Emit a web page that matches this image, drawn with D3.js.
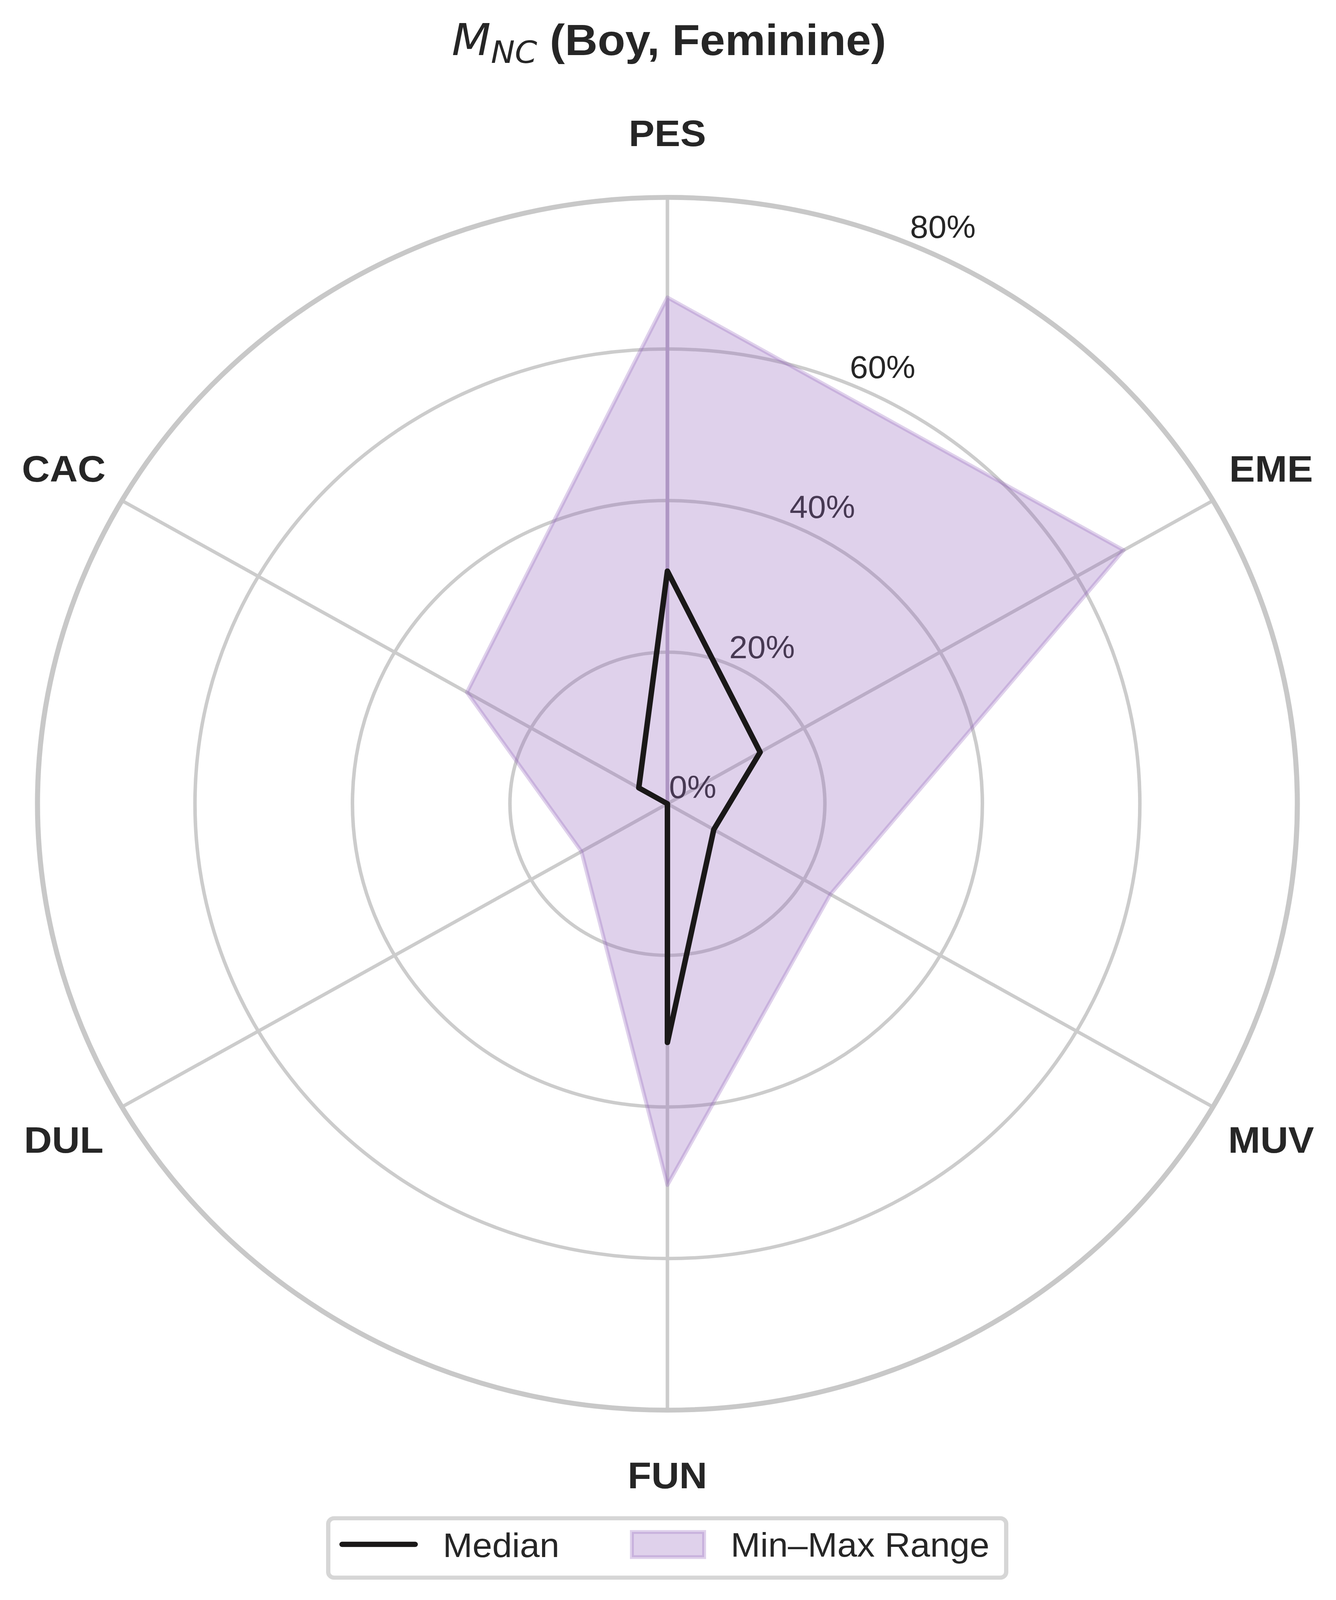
<!DOCTYPE html>
<html>
<head>
<meta charset="utf-8">
<script src="https://cdnjs.cloudflare.com/ajax/libs/d3/7.8.5/d3.min.js"></script>
<style>
  html, body { margin: 0; padding: 0; background: #fff; overflow: hidden; }
  svg { display: block; width: 100vw; height: 100vh; }
  text { font-family: "Liberation Sans", Arial, sans-serif; fill: #262626; }
</style>
</head>
<body>
<script>
  var categories = ["PES", "EME", "MUV", "FUN", "DUL", "CAC"];
  var medianVals = [30.7, 13.6, 6.8, 31.5, 0, 4.2];
  var minVals = [0, 0, 0, 0, 0, 0];
  var maxVals = [66.8, 66.9, 23.9, 50.3, 12.6, 29.4];
  var tickVals = [0, 20, 40, 60, 80];

  var W = 3421, H = 4256;
  var cx = 1709, cy = 2138, R = 1613;
  var purple = "#9467bd";

  // viewBox so the whole figure fits whatever viewport the browser really gives
  var svg = d3.select("body").append("svg")
      .attr("viewBox", "0 0 " + W + " " + H)
      .attr("preserveAspectRatio", "none");

  var r = d3.scaleLinear().domain([0, 80]).range([0, R]);
  var ang = d3.scaleLinear().domain([0, categories.length]).range([0, 2 * Math.PI]);

  var g = svg.append("g").attr("transform", "translate(" + cx + "," + cy + ")");

  // grid rings
  g.selectAll("circle.ring").data(tickVals.filter(function(d){ return d > 0; })).enter()
    .append("circle")
    .attr("class", "ring")
    .attr("r", function(d){ return r(d); })
    .attr("fill", "none")
    .attr("stroke", "#cccccc")
    .attr("stroke-width", 9);

  // spokes
  g.selectAll("line.spoke").data(categories).enter().append("line")
    .attr("class", "spoke")
    .attr("x1", 0).attr("y1", 0)
    .attr("x2", function(d,i){ return d3.pointRadial(ang(i), R)[0]; })
    .attr("y2", function(d,i){ return d3.pointRadial(ang(i), R)[1]; })
    .attr("stroke", "#cccccc")
    .attr("stroke-width", 9);

  // outer spine
  g.append("circle").attr("r", R)
    .attr("fill", "none").attr("stroke", "#c8c8c8").attr("stroke-width", 13);

  // radial tick labels, 22.5 deg clockwise from top
  var labAng = 22.5 * Math.PI / 180;
  g.selectAll("text.tick").data(tickVals).enter().append("text")
    .attr("class", "tick")
    .attr("x", function(d){ return d3.pointRadial(labAng, r(d))[0] + 4; })
    .attr("y", function(d){ return d3.pointRadial(labAng, r(d))[1] - 15; })
    .style("font-size", "84px")
    .text(function(d){ return d + "%"; });

  // min-max band (closed loop, like fill_between over 0..2pi)
  var idx = d3.range(categories.length + 1);
  var area = d3.areaRadial()
    .angle(function(i){ return ang(i); })
    .innerRadius(function(i){ return r(minVals[i % categories.length]); })
    .outerRadius(function(i){ return r(maxVals[i % categories.length]); });
  g.append("path")
    .attr("d", area(idx))
    .attr("fill", purple).attr("fill-opacity", 0.3)
    .attr("stroke", purple).attr("stroke-opacity", 0.3)
    .attr("stroke-width", 10)
    .attr("stroke-linejoin", "round");

  // median line
  var line = d3.lineRadial()
    .angle(function(i){ return ang(i); })
    .radius(function(i){ return r(medianVals[i % categories.length]); });
  g.append("path")
    .attr("d", line(idx))
    .attr("fill", "none")
    .attr("stroke", "#1a1818")
    .attr("stroke-width", 14)
    .attr("stroke-linejoin", "round")
    .attr("stroke-linecap", "round");

  // category labels
  g.selectAll("text.cat").data(categories).enter().append("text")
    .attr("class", "cat")
    .attr("x", function(d,i){ return d3.pointRadial(ang(i), 1785)[0]; })
    .attr("y", function(d,i){ return d3.pointRadial(ang(i), 1785)[1] + 36; })
    .attr("text-anchor", "middle")
    .style("font-size", "99px")
    .style("font-weight", "bold")
    .text(function(d){ return d; });

  // title
  var title = svg.append("text")
    .attr("x", 1713).attr("y", 147)
    .attr("text-anchor", "middle")
    .style("font-size", "116px");
  title.append("tspan")
    .style("font-family", "DejaVu Sans").style("font-style", "italic")
    .text("M");
  title.append("tspan")
    .style("font-family", "DejaVu Sans").style("font-style", "italic")
    .style("font-size", "82px").attr("dy", 20)
    .text("NC");
  title.append("tspan")
    .attr("dy", -20)
    .style("font-weight", "bold")
    .text(" (Boy, Feminine)");

  // legend
  var leg = svg.append("g");
  leg.append("rect")
    .attr("x", 840.5).attr("y", 4038.5)
    .attr("width", 1736).attr("height", 158)
    .attr("rx", 15).attr("ry", 15)
    .attr("fill", "#fff")
    .attr("stroke", "#d6d6d6").attr("stroke-width", 11);
  leg.append("line")
    .attr("x1", 876).attr("x2", 1063)
    .attr("y1", 4108).attr("y2", 4108)
    .attr("stroke", "#1a1818").attr("stroke-width", 14)
    .attr("stroke-linecap", "round");
  leg.append("text")
    .attr("x", 1134).attr("y", 4142)
    .style("font-size", "91px")
    .text("Median");
  leg.append("rect")
    .attr("x", 1618).attr("y", 4075)
    .attr("width", 185).attr("height", 67)
    .attr("fill", purple).attr("fill-opacity", 0.3)
    .attr("stroke", purple).attr("stroke-opacity", 0.3)
    .attr("stroke-width", 10);
  leg.append("text")
    .attr("x", 1871).attr("y", 4141)
    .style("font-size", "91px")
    .text("Min\u2013Max Range");
</script>
</body>
</html>
